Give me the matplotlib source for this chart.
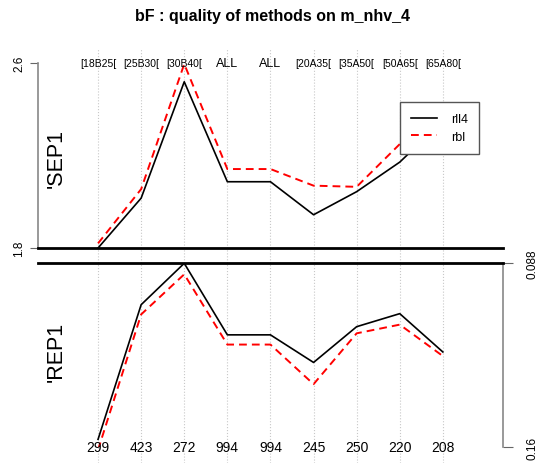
import matplotlib
matplotlib.use("Agg")
import matplotlib.pyplot as plt

plt.rcParams['font.family'] = ['Liberation Sans', 'DejaVu Sans']

# data
top_labels = ["[18B25[", "[25B30[", "[30B40[", "ALL", "ALL",
              "[20A35[", "[35A50[", "[50A65[", "[65A80["]
bottom_labels = ["299", "423", "272", "994", "994", "245", "250", "220", "208"]
x = list(range(1, 10))

sep_rll4 = [1.80, 2.016, 2.520, 2.087, 2.087, 1.944, 2.044, 2.172, 2.35]
sep_rbl = [1.82, 2.055, 2.597, 2.142, 2.142, 2.070, 2.065, 2.250, 2.40]
rep_rll4 = [0.1569, 0.1042, 0.0880, 0.1160, 0.1160, 0.1268, 0.1128, 0.1077, 0.1227]
rep_rbl = [0.1610, 0.1080, 0.0923, 0.1198, 0.1198, 0.1353, 0.1154, 0.1120, 0.1243]

W, H = 539, 464
fig = plt.figure(figsize=(W / 100, H / 100), dpi=100)

def rect(x0, y0, x1, y1):
    # pixel box (top-left origin) -> figure fraction
    return [x0 / W, 1 - y1 / H, (x1 - x0) / W, (y1 - y0) / H]

xlim = (-0.4, 10.4)
L, R = 37.7, 503.2

# background axes for the dotted vertical grid
bg = fig.add_axes(rect(L, 50, R, 464))
bg.set_xlim(xlim)
bg.axis('off')
for xi in x:
    bg.axvline(xi, color='#c8c8c8', lw=0.8, ls=':')

top = fig.add_axes(rect(L, 64.3, R, 249))
bot = fig.add_axes(rect(L, 264.3, R, 448.3))
for ax in (top, bot):
    ax.set_xlim(xlim)
    ax.patch.set_alpha(0)
    ax.set_xticks([])
    for s in ax.spines.values():
        s.set_visible(False)

dash = (0, (4, 2.6))

# top panel
top.plot(x, sep_rll4, color='black', lw=1.2, label='rll4')
top.plot(x, sep_rbl, color='red', lw=1.4, ls=dash, label='rbl')
top.set_ylim(1.8, 2.6)
top.set_yticks([1.8, 2.6])
top.set_yticklabels(['1.8', '2.6'], rotation=90, va='center', fontsize=8.5)
top.tick_params(axis='y', colors='#666666', labelcolor='black', length=6, width=0.8, pad=3)
top.spines['left'].set_visible(True)
top.spines['left'].set_color('#888888')
top.spines['left'].set_linewidth(1.2)
top.spines['bottom'].set_visible(True)
top.spines['bottom'].set_linewidth(2.0)
for xi, lab in zip(x, top_labels):
    fs = 9 if lab == "ALL" else 7.5
    top.text(xi, 2.6, lab, ha='center', va='center', fontsize=fs, clip_on=False)
top.legend(loc='upper left', bbox_to_anchor=(400 / W, 1 - 102.7 / H),
           bbox_transform=fig.transFigure, borderaxespad=0, fancybox=False,
           framealpha=1, edgecolor='#555555', fontsize=9, handlelength=2.1,
           borderpad=0.9, labelspacing=0.45, handletextpad=1.1)

# bottom panel (inverted scale, axis on the right)
bot.plot(x, rep_rll4, color='black', lw=1.2)
bot.plot(x, rep_rbl, color='red', lw=1.4, ls=dash)
bot.set_ylim(0.16, 0.088)
bot.yaxis.tick_right()
bot.set_yticks([0.088, 0.16])
bot.set_yticklabels(['0.088', '0.16'], rotation=90, va='center', fontsize=8.5)
bot.tick_params(axis='y', colors='#666666', labelcolor='black', length=7, width=0.8, pad=10)
bot.spines['right'].set_visible(True)
bot.spines['right'].set_color('#888888')
bot.spines['right'].set_linewidth(1.2)
bot.spines['top'].set_visible(True)
bot.spines['top'].set_linewidth(2.0)
for xi, lab in zip(x, bottom_labels):
    bot.text(xi, 0.16, lab, ha='center', va='center', fontsize=10, clip_on=False)

fig.text(56.7 / W, 1 - 159 / H, "'SEP1", rotation=90, ha='center', va='center', fontsize=15.5)
fig.text(56.7 / W, 1 - 351.5 / H, "'REP1", rotation=90, ha='center', va='center', fontsize=15.5)
fig.text(272.5 / W, 1 - 16 / H, "bF : quality of methods on m_nhv_4", ha='center', va='center',
         fontsize=11.5, fontweight='bold')

fig.savefig('out.png', dpi=100)
